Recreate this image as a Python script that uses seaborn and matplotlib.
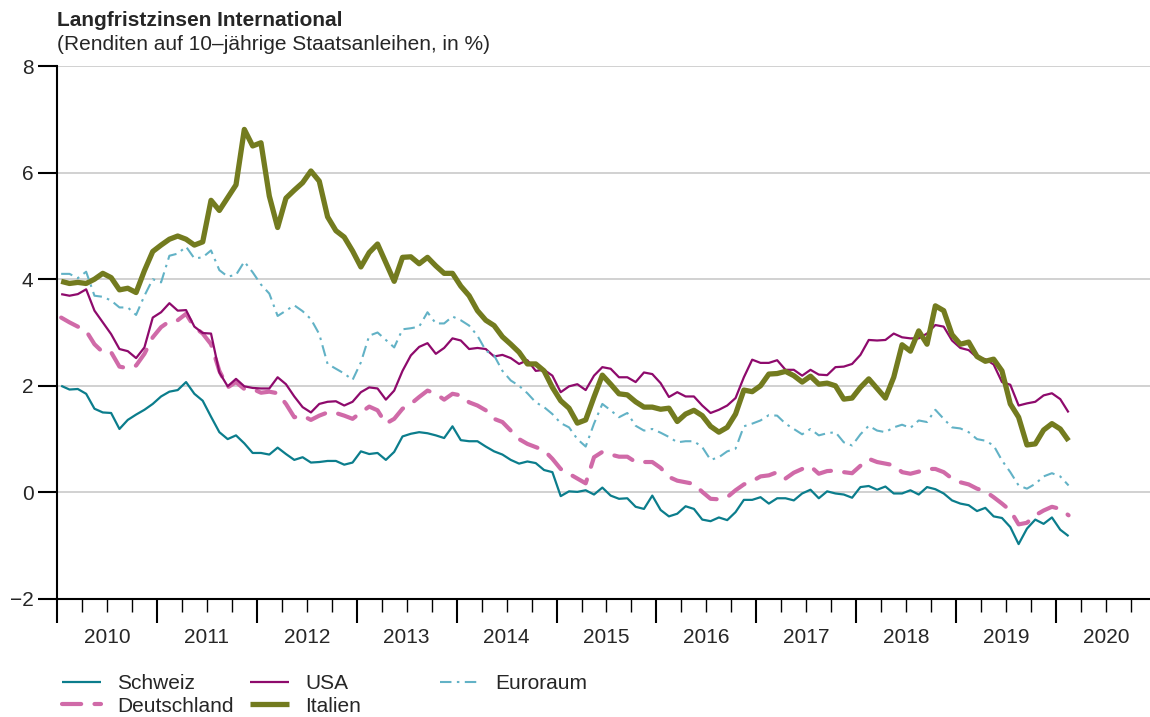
import numpy as np
import pandas as pd
import matplotlib
matplotlib.use("Agg")
import matplotlib.pyplot as plt
import seaborn as sns

# ---------------- data (monthly, Jan 2010 - Feb 2020) ----------------
months = pd.date_range("2010-01-01", "2020-02-01", freq="MS")

schweiz = [2.00, 1.93, 1.94, 1.85, 1.57, 1.50, 1.49, 1.19, 1.36, 1.46, 1.55, 1.66,
           1.80, 1.89, 1.92, 2.07, 1.85, 1.72, 1.42, 1.13, 1.00, 1.07, 0.92, 0.74,
           0.74, 0.71, 0.84, 0.72, 0.61, 0.66, 0.56, 0.57, 0.59, 0.59, 0.52, 0.56,
           0.77, 0.72, 0.74, 0.61, 0.76, 1.05, 1.10, 1.13, 1.11, 1.07, 1.02, 1.24,
           0.98, 0.96, 0.96, 0.86, 0.77, 0.71, 0.61, 0.54, 0.58, 0.55, 0.42, 0.38,
           -0.07, 0.02, 0.01, 0.04, -0.04, 0.09, -0.06, -0.12, -0.11, -0.27, -0.31, -0.06,
           -0.33, -0.45, -0.40, -0.26, -0.31, -0.51, -0.54, -0.47, -0.52, -0.37, -0.14, -0.14,
           -0.09, -0.21, -0.11, -0.11, -0.15, -0.02, 0.05, -0.11, 0.02, -0.02, -0.04, -0.10,
           0.10, 0.12, 0.05, 0.11, -0.02, -0.02, 0.04, -0.04, 0.10, 0.06, -0.02, -0.15,
           -0.21, -0.24, -0.35, -0.29, -0.45, -0.48, -0.65, -0.97, -0.68, -0.51, -0.59, -0.47,
           -0.70, -0.82]

deutschland = [3.28, 3.19, 3.11, 3.03, 2.78, 2.63, 2.63, 2.36, 2.33, 2.38, 2.60, 2.91,
               3.10, 3.21, 3.23, 3.35, 3.10, 2.98, 2.78, 2.28, 1.97, 2.07, 1.94, 1.94,
               1.87, 1.89, 1.86, 1.66, 1.41, 1.44, 1.36, 1.44, 1.50, 1.49, 1.44, 1.38,
               1.50, 1.61, 1.54, 1.29, 1.38, 1.57, 1.66, 1.79, 1.91, 1.85, 1.74, 1.85,
               1.82, 1.69, 1.63, 1.54, 1.38, 1.32, 1.16, 1.00, 0.91, 0.85, 0.79, 0.63,
               0.44, 0.35, 0.26, 0.17, 0.66, 0.76, 0.71, 0.67, 0.67, 0.57, 0.57, 0.57,
               0.46, 0.29, 0.22, 0.19, 0.16, 0.01, -0.12, -0.13, -0.09, 0.04, 0.15, 0.21,
               0.30, 0.32, 0.38, 0.26, 0.37, 0.44, 0.49, 0.35, 0.40, 0.41, 0.38, 0.36,
               0.50, 0.63, 0.57, 0.54, 0.51, 0.38, 0.35, 0.39, 0.44, 0.44, 0.38, 0.26,
               0.19, 0.15, 0.07, 0.02, -0.09, -0.21, -0.34, -0.60, -0.57, -0.43, -0.34, -0.27,
               -0.31, -0.43]

usa = [3.72, 3.69, 3.72, 3.81, 3.41, 3.19, 2.97, 2.69, 2.65, 2.52, 2.72, 3.28,
       3.38, 3.55, 3.41, 3.42, 3.11, 2.99, 2.98, 2.25, 1.99, 2.13, 1.99, 1.96,
       1.95, 1.95, 2.16, 2.03, 1.80, 1.60, 1.50, 1.66, 1.70, 1.71, 1.63, 1.70,
       1.88, 1.97, 1.95, 1.74, 1.91, 2.28, 2.57, 2.73, 2.80, 2.60, 2.71, 2.89,
       2.85, 2.69, 2.71, 2.69, 2.55, 2.58, 2.52, 2.41, 2.48, 2.28, 2.30, 2.19,
       1.88, 1.99, 2.03, 1.92, 2.19, 2.35, 2.32, 2.16, 2.16, 2.07, 2.25, 2.22,
       2.05, 1.79, 1.88, 1.80, 1.80, 1.63, 1.49, 1.55, 1.63, 1.77, 2.16, 2.49,
       2.43, 2.43, 2.48, 2.30, 2.30, 2.19, 2.30, 2.21, 2.20, 2.35, 2.36, 2.41,
       2.58, 2.86, 2.85, 2.86, 2.98, 2.91, 2.89, 2.89, 2.98, 3.14, 3.11, 2.85,
       2.71, 2.67, 2.53, 2.50, 2.40, 2.07, 2.02, 1.63, 1.67, 1.70, 1.82, 1.86,
       1.75, 1.50]

italien = [3.96, 3.92, 3.94, 3.92, 4.00, 4.11, 4.03, 3.80, 3.83, 3.75, 4.16, 4.52,
           4.64, 4.75, 4.81, 4.75, 4.64, 4.70, 5.48, 5.29, 5.53, 5.77, 6.81, 6.50,
           6.56, 5.56, 4.97, 5.52, 5.67, 5.81, 6.03, 5.84, 5.17, 4.91, 4.79, 4.53,
           4.23, 4.50, 4.66, 4.31, 3.96, 4.41, 4.42, 4.29, 4.41, 4.25, 4.11, 4.11,
           3.87, 3.69, 3.41, 3.23, 3.13, 2.92, 2.78, 2.63, 2.41, 2.41, 2.28, 1.97,
           1.72, 1.58, 1.30, 1.36, 1.79, 2.20, 2.03, 1.85, 1.83, 1.70, 1.60, 1.60,
           1.56, 1.58, 1.33, 1.47, 1.54, 1.44, 1.24, 1.13, 1.22, 1.47, 1.92, 1.89,
           2.00, 2.22, 2.23, 2.27, 2.19, 2.07, 2.18, 2.03, 2.05, 2.00, 1.75, 1.77,
           1.97, 2.13, 1.95, 1.77, 2.16, 2.77, 2.65, 3.03, 2.78, 3.50, 3.41, 2.96,
           2.78, 2.82, 2.55, 2.46, 2.50, 2.28, 1.66, 1.41, 0.89, 0.91, 1.17, 1.29,
           1.19, 0.97]

euroraum = [4.10, 4.10, 4.02, 4.14, 3.69, 3.67, 3.60, 3.47, 3.47, 3.33, 3.69, 4.00,
            3.94, 4.44, 4.48, 4.61, 4.39, 4.41, 4.54, 4.17, 4.05, 4.08, 4.33, 4.13,
            3.90, 3.73, 3.31, 3.41, 3.51, 3.40, 3.25, 2.97, 2.41, 2.32, 2.23, 2.11,
            2.44, 2.94, 3.00, 2.86, 2.72, 3.06, 3.08, 3.11, 3.38, 3.17, 3.17, 3.30,
            3.23, 3.13, 2.94, 2.66, 2.57, 2.28, 2.10, 2.00, 1.86, 1.69, 1.60, 1.47,
            1.30, 1.22, 1.00, 0.86, 1.29, 1.66, 1.54, 1.41, 1.49, 1.25, 1.16, 1.19,
            1.12, 1.04, 0.94, 0.96, 0.96, 0.85, 0.61, 0.66, 0.77, 0.82, 1.24, 1.29,
            1.35, 1.45, 1.44, 1.29, 1.19, 1.09, 1.19, 1.07, 1.11, 1.13, 0.94, 0.88,
            1.09, 1.25, 1.16, 1.13, 1.22, 1.27, 1.21, 1.35, 1.32, 1.55, 1.38, 1.22,
            1.20, 1.13, 1.00, 0.97, 0.88, 0.60, 0.38, 0.13, 0.07, 0.16, 0.30, 0.36,
            0.30, 0.13]

series_names = ["Schweiz", "Deutschland", "USA", "Italien", "Euroraum"]
year_ticks = list(range(2010, 2021))
year_labels = [str(y) for y in year_ticks]
y_ticks = [-2, 0, 2, 4, 6, 8]
y_labels = ["\u22122", "0", "2", "4", "6", "8"]

# ---------------- styling ----------------
styles = {
    "Schweiz":     dict(color="#0b7d8c", linewidth=1.6, linestyle="-"),
    "Deutschland": dict(color="#d06aa8", linewidth=3.0, linestyle=(0, (4.6, 3.2)),
                        dash_capstyle="round"),
    "USA":         dict(color="#8e0a6c", linewidth=1.6, linestyle="-"),
    "Italien":     dict(color="#737b1f", linewidth=3.8, linestyle="-"),
    "Euroraum":    dict(color="#62b2c6", linewidth=1.5, linestyle=(0, (5.5, 2.6, 1.2, 2.6)),
                        dash_capstyle="butt"),
}

sns.set_style("white")
plt.rcParams["font.family"] = ["Liberation Sans", "DejaVu Sans"]

x_pos = months.year + (months.month - 0.5) / 12.0
df = pd.DataFrame({"x": x_pos, "Schweiz": schweiz, "Deutschland": deutschland,
                   "USA": usa, "Italien": italien, "Euroraum": euroraum})

W, H = 1150, 717
fig = plt.figure(figsize=(W / 100, H / 100), dpi=100)
ax = fig.add_axes([57 / W, 1 - 599 / H, 1 - 57 / W, (599 - 66) / H])

handles = {}
for name in series_names:
    n_before = len(ax.lines)
    sns.lineplot(data=df, x="x", y=name, ax=ax, estimator=None, sort=False,
                 legend=False, solid_capstyle="butt", **styles[name])
    handles[name] = ax.lines[n_before]

ax.set_xlim(2010, 2020.94)
ax.set_ylim(-2, 8)
ax.set_xlabel("")
ax.set_ylabel("")

ax.set_yticks(y_ticks)
ax.set_yticklabels(y_labels)
ax.yaxis.grid(True, color="#c9c9c9", linewidth=1.2)
ax.xaxis.grid(False)
ax.set_axisbelow(True)

for s in ["top", "right"]:
    ax.spines[s].set_visible(False)
for s in ["left", "bottom"]:
    ax.spines[s].set_color("black")
    ax.spines[s].set_linewidth(1.5)
    ax.spines[s].set_zorder(5)

ax.set_xticks(year_ticks)
ax.set_xticklabels([])
ax.set_xticks([y + q for y in year_ticks for q in (0.25, 0.5, 0.75)], minor=True)
ax.tick_params(axis="x", which="major", length=17, width=1.5, color="black",
               direction="out", bottom=True)
ax.tick_params(axis="x", which="minor", length=9.5, width=1.0, color="black",
               direction="out", bottom=True)
ax.tick_params(axis="y", which="major", length=13.5, width=1.5, color="black",
               direction="out", left=True, labelsize=15, pad=3.5)

sec = ax.secondary_xaxis("bottom")
sec.set_xticks([y + 0.5 for y in year_ticks])
sec.set_xticklabels(year_labels)
sec.tick_params(length=0, pad=21, labelsize=15)
sec.spines["bottom"].set_visible(False)

fig.text(57 / W, 1 - 20 / H, "Langfristzinsen International", fontsize=15,
         fontweight="bold", va="center", ha="left")
fig.text(57 / W, 1 - 44 / H, "(Renditen auf 10\u2013j\u00e4hrige Staatsanleihen, in %)",
         fontsize=15, va="center", ha="left")

columns = [(["Schweiz", "Deutschland"], 62), (["USA", "Italien"], 250), (["Euroraum"], 440)]
for names, xpx in columns:
    leg = fig.legend([handles[n] for n in names], names, loc="upper left",
                     bbox_to_anchor=(xpx / W, 1 - 674 / H), frameon=False,
                     fontsize=15, handlelength=1.85, handletextpad=0.8,
                     labelspacing=0.18, borderpad=0, borderaxespad=0)

fig.savefig("out.png", dpi=100)
